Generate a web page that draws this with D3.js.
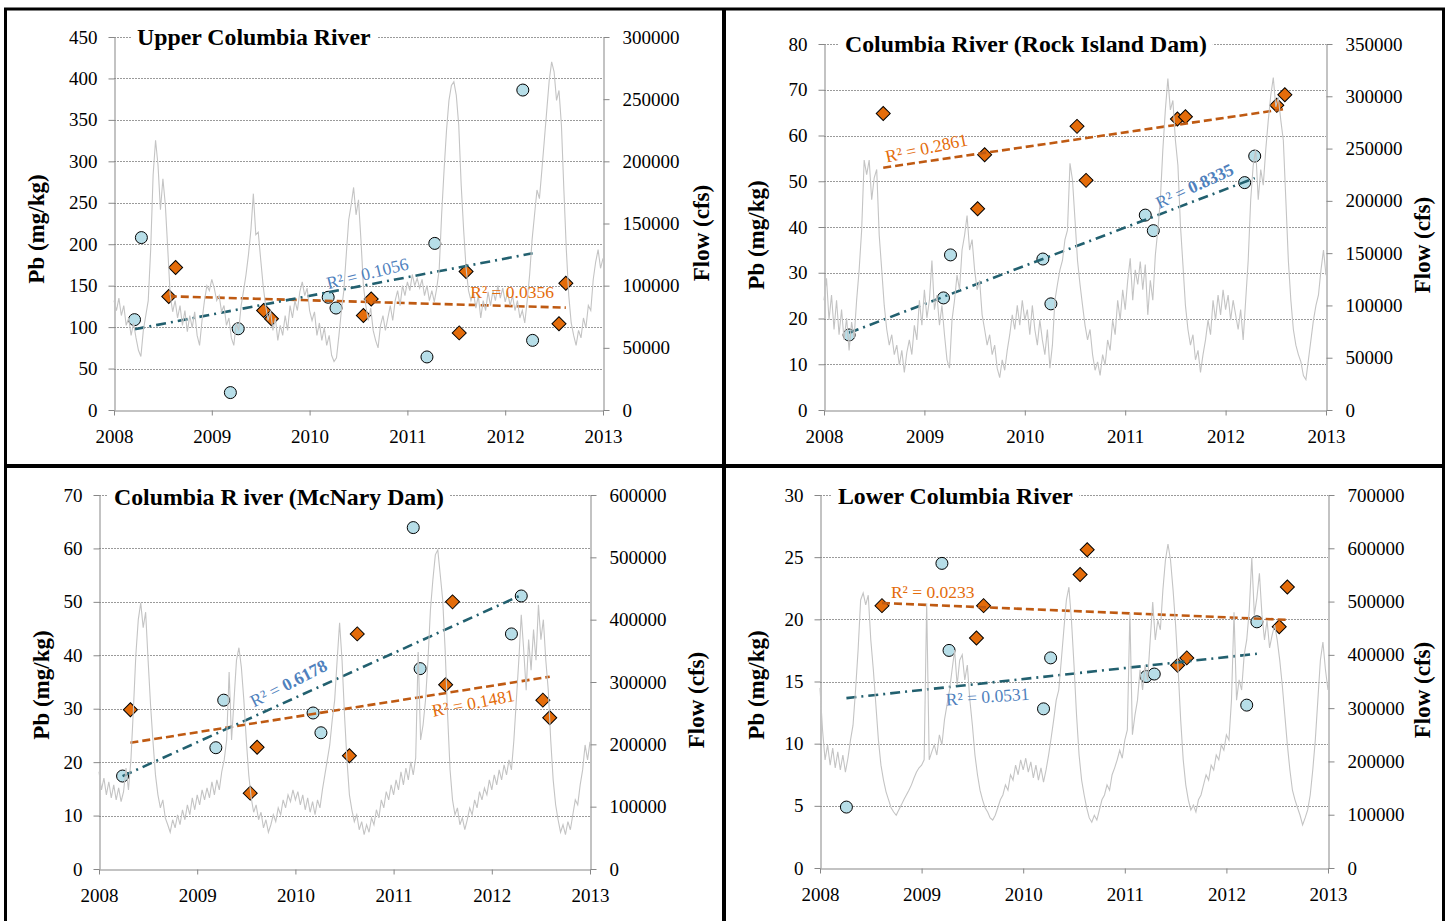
<!DOCTYPE html>
<html>
<head>
<meta charset="utf-8">
<script src="https://cdn.jsdelivr.net/npm/d3@7"></script>
<style>
  body { margin: 0; background: #fff; }
  svg text { font-family: "Liberation Serif", "Times New Roman", serif; }
</style>
</head>
<body>
<svg id="chart" width="1447" height="921"></svg>
<script>
// ---- data ----
const years = [2008, 2009, 2010, 2011, 2012, 2013];

// Pb samples [decimal year, mg/kg]; circles and diamonds are the two sample sets
const upperCircles = [[2008.21,109],[2008.28,208],[2009.19,21],[2009.27,98],[2010.19,136],[2010.27,123],[2011.20,64],[2011.28,201],[2012.18,386],[2012.28,84]];
const upperDiamonds = [[2008.56,137],[2008.63,172],[2009.53,120],[2009.61,110],[2010.55,114],[2010.63,134],[2011.53,93],[2011.60,167],[2012.55,104],[2012.62,153]];

const rockCircles = [[2008.25,16.4],[2009.19,24.5],[2009.26,33.9],[2010.18,33.0],[2010.26,23.2],[2011.20,42.6],[2011.28,39.2],[2012.19,49.7],[2012.29,55.5]];
const rockDiamonds = [[2008.59,64.8],[2009.53,44.0],[2009.60,55.8],[2010.52,62.0],[2010.61,50.2],[2011.52,63.6],[2011.60,64.1],[2012.51,66.6],[2012.59,68.9]];

const mcnaryCircles = [[2008.24,17.4],[2009.19,22.7],[2009.27,31.6],[2010.18,29.2],[2010.26,25.5],[2011.20,63.9],[2011.27,37.5],[2012.20,44.0],[2012.30,51.1]];
const mcnaryDiamonds = [[2008.32,29.8],[2009.54,14.2],[2009.61,22.8],[2010.55,21.2],[2010.63,44.0],[2011.53,34.5],[2011.60,50.0],[2012.52,31.6],[2012.59,28.3]];

const lowerCircles = [[2008.26,4.9],[2009.20,24.5],[2009.27,17.5],[2010.20,12.8],[2010.27,16.9],[2011.21,15.4],[2011.29,15.6],[2012.20,13.1],[2012.30,19.8]];
const lowerDiamonds = [[2008.61,21.1],[2009.54,18.5],[2009.61,21.1],[2010.56,23.6],[2010.63,25.6],[2011.52,16.3],[2011.61,16.9],[2012.52,19.4],[2012.60,22.6]];

// river flow in thousand cfs, one reading every 1/40 year from 2008.0 to 2013.0
const flowDates = d3.range(201).map(i => 2008 + i / 40);

const upperFlow = [88,80,90,76,84,68,74,60,70,58,48,43,64,76,88,129,189,217,197,161,
  186,165,129,92,79,88,74,84,68,80,63,76,66,79,60,52,72,88,100,96,
  105,98,88,92,79,84,68,74,58,52,70,64,84,96,109,125,145,174,141,143,
  121,100,84,72,80,64,74,56,68,60,76,64,84,74,88,80,95,103,92,98,
  80,72,79,60,70,56,66,52,60,44,39,42,60,80,96,125,153,165,179,157,
  169,137,100,84,72,82,64,56,50,68,76,64,74,84,72,88,96,84,100,92,
  103,96,109,100,106,98,105,92,100,88,96,87,98,113,157,193,225,249,261,264,
  253,229,181,145,114,96,88,95,82,92,74,88,80,95,84,96,88,100,90,98,
  87,95,84,92,80,88,74,80,70,88,109,137,157,177,170,193,217,241,265,280,
  272,249,257,229,177,129,92,70,60,52,64,58,74,66,84,80,105,119,129,114,122];

const rockFlow = [105,126,86,110,77,105,72,96,67,88,57,84,69,105,134,172,239,225,239,201,
  222,230,167,134,100,77,62,72,53,62,43,57,36,55,67,53,81,67,105,81,
  115,88,105,143,96,110,81,100,72,48,40,86,105,129,115,153,167,186,153,163,
  134,115,124,91,77,62,72,53,62,40,31,48,38,57,72,91,77,100,81,105,
  86,96,72,100,77,62,86,67,53,77,40,62,105,120,134,143,163,172,236,220,
  182,143,120,100,81,67,77,53,38,46,33,53,43,67,57,86,72,105,86,115,
  96,124,145,105,134,120,142,115,139,91,124,105,148,172,201,249,287,317,287,296,
  258,234,177,139,100,77,62,72,48,57,36,53,67,86,72,105,86,110,91,115,
  96,110,86,105,91,77,96,67,105,143,201,234,249,201,230,215,249,277,301,318,
  290,299,277,258,201,143,105,77,62,53,46,33,29,48,67,86,100,110,134,153,129];

const mcnaryFlow = [156,127,146,119,140,114,135,111,130,108,124,162,127,175,255,343,400,427,387,412,
  335,263,204,151,119,98,111,82,71,59,79,66,87,71,95,79,103,87,114,95,
  119,103,127,111,130,114,140,119,143,127,156,175,207,316,207,271,335,355,323,271,
  207,151,114,91,103,79,91,66,79,59,71,87,76,98,87,111,98,119,108,127,
  111,124,103,119,95,114,91,108,87,111,98,127,151,175,199,239,271,335,395,335,
  247,175,119,95,76,87,63,76,55,71,59,82,71,95,82,111,98,124,111,135,
  119,143,127,156,135,162,143,172,151,178,348,207,231,271,335,416,464,504,512,472,
  432,351,247,159,111,87,98,71,82,63,79,98,87,111,98,124,111,130,119,143,
  127,151,135,159,143,167,151,175,159,207,271,335,408,351,287,368,319,384,335,424,
  368,400,335,287,207,143,103,79,59,71,55,76,63,87,111,103,135,159,199,175,204];

const lowerFlow = [338,259,203,231,193,225,188,218,184,212,180,206,240,268,334,409,503,516,494,512,
  428,372,306,240,193,165,143,128,113,105,99,109,118,128,137,146,156,169,180,188,
  193,203,497,203,218,231,212,250,231,278,306,334,372,409,343,390,400,353,381,315,
  268,212,175,146,128,113,105,94,90,99,113,128,137,156,146,175,165,193,175,203,
  184,206,180,199,169,193,165,188,161,184,212,244,278,315,334,390,447,503,527,465,
  381,287,212,165,137,113,94,86,99,90,109,128,137,156,146,175,188,203,221,206,
  240,259,479,250,287,315,372,334,381,353,428,499,428,465,447,522,578,608,578,522,
  456,372,278,203,156,128,109,118,105,128,137,156,175,165,193,184,212,203,231,221,
  250,240,315,480,315,353,334,400,428,484,582,475,507,553,475,428,465,413,437,456,
  428,390,343,287,231,184,146,128,113,99,81,94,109,137,184,240,315,390,424,372,334];

// ---- panel layout ----
const panels = [
  { title: 'Upper Columbia River', left: 114, right: 603, top: 37, bottom: 410,
    pbMax: 450, pbStep: 50, flowMax: 300000, flowStep: 50000,
    circles: upperCircles, diamonds: upperDiamonds, flow: upperFlow,
    yTitleL: [44, 229], yTitleR: [709, 233], titleX: 137, titleDy: 8,
    labC: { text: '0.1056', at: [2010.59, 165], rot: -14, bold: false },
    labD: { text: '0.0356', at: [2012.07, 142], rot: 0, bold: false } },
  { title: 'Columbia River (Rock Island Dam)', left: 824, right: 1326, top: 44, bottom: 410,
    pbMax: 80, pbStep: 10, flowMax: 350000, flowStep: 50000,
    circles: rockCircles, diamonds: rockDiamonds, flow: rockFlow,
    yTitleL: [764, 235], yTitleR: [1430, 245], titleX: 845, titleDy: 8,
    labC: { text: '0.8335', at: [2011.69, 49], rot: -25, bold: true },
    labD: { text: '0.2861', at: [2009.02, 57.3], rot: -12, bold: false } },
  { title: 'Columbia R iver (McNary Dam)', left: 99, right: 590, top: 495, bottom: 869,
    pbMax: 70, pbStep: 10, flowMax: 600000, flowStep: 100000,
    circles: mcnaryCircles, diamonds: mcnaryDiamonds, flow: mcnaryFlow,
    yTitleL: [49, 685], yTitleR: [704, 700], titleX: 114, titleDy: 10,
    labC: { text: '0.6178', at: [2009.93, 34.8], rot: -27, bold: true },
    labD: { text: '0.1481', at: [2011.81, 31.1], rot: -11, bold: false } },
  { title: 'Lower Columbia River', left: 820, right: 1328, top: 495, bottom: 868,
    pbMax: 30, pbStep: 5, flowMax: 700000, flowStep: 100000,
    circles: lowerCircles, diamonds: lowerDiamonds, flow: lowerFlow,
    yTitleL: [764, 685], yTitleR: [1430, 690], titleX: 838, titleDy: 9,
    labC: { text: '0.0531', at: [2009.65, 13.8], rot: -4, bold: false },
    labD: { text: '0.0233', at: [2009.11, 22.2], rot: 0, bold: false } }
];

const svg = d3.select('#chart');

const linReg = function (pts) {
  const mx = d3.mean(pts, d => d[0]), my = d3.mean(pts, d => d[1]);
  const sxy = d3.sum(pts, d => (d[0] - mx) * (d[1] - my));
  const sxx = d3.sum(pts, d => (d[0] - mx) * (d[0] - mx));
  const b = sxy / sxx;
  return t => my + b * (t - mx);
};

const drawPanel = function (p) {
  const x = d3.scaleLinear().domain([2008, 2013]).range([p.left, p.right]);
  const yL = d3.scaleLinear().domain([0, p.pbMax]).range([p.bottom, p.top]);
  const yR = d3.scaleLinear().domain([0, p.flowMax]).range([p.bottom, p.top]);
  const leftTicks = d3.range(0, p.pbMax + p.pbStep / 2, p.pbStep);
  const rightTicks = d3.range(0, p.flowMax + p.flowStep / 2, p.flowStep);
  const g = svg.append('g');

  // grid
  g.append('g').selectAll('line')
    .data(leftTicks.filter(d => d > 0))
    .join('line')
    .attr('x1', p.left).attr('x2', p.right)
    .attr('y1', d => Math.round(yL(d)) + 0.5).attr('y2', d => Math.round(yL(d)) + 0.5)
    .attr('stroke', '#9a9a9a').attr('stroke-dasharray', '2,1');

  // title with white backing over the top grid line
  const title = g.append('text')
    .attr('x', p.titleX).attr('y', p.top + p.titleDy)
    .attr('font-size', 23.8).attr('font-weight', 'bold')
    .text(p.title);
  const bb = title.node().getBBox();
  g.insert('rect', 'text').attr('x', bb.x - 6).attr('y', bb.y).attr('width', bb.width + 12).attr('height', bb.height)
    .attr('fill', '#fff');

  // axes
  const styleAxis = sel => {
    sel.selectAll('path,line').attr('stroke', '#878787');
    sel.selectAll('text').attr('font-size', 19).attr('fill', '#000')
      .attr('font-family', '"Liberation Serif","Times New Roman",serif');
  };
  g.append('g').attr('transform', `translate(${p.left + 0.5},0)`)
    .call(d3.axisLeft(yL).tickValues(leftTicks).tickSize(6).tickSizeOuter(0).tickPadding(11))
    .call(styleAxis);
  g.append('g').attr('transform', `translate(${p.right + 0.5},0)`)
    .call(d3.axisRight(yR).tickValues(rightTicks).tickFormat(d3.format('d')).tickSize(6).tickSizeOuter(0).tickPadding(13))
    .call(styleAxis);
  g.append('g').attr('transform', `translate(0,${p.bottom + 0.5})`)
    .call(d3.axisBottom(x).tickValues(years).tickFormat(d3.format('d')).tickSize(5).tickSizeOuter(0).tickPadding(14))
    .call(styleAxis);

  // axis titles
  g.append('text').attr('transform', `translate(${p.yTitleL[0]},${p.yTitleL[1]}) rotate(-90)`)
    .attr('text-anchor', 'middle').attr('font-size', 23).attr('font-weight', 'bold').text('Pb (mg/kg)');
  g.append('text').attr('transform', `translate(${p.yTitleR[0]},${p.yTitleR[1]}) rotate(-90)`)
    .attr('text-anchor', 'middle').attr('font-size', 23).attr('font-weight', 'bold').text('Flow (cfs)');

  // markers
  g.append('g').selectAll('circle').data(p.circles).join('circle')
    .attr('cx', d => x(d[0])).attr('cy', d => yL(d[1])).attr('r', 6)
    .attr('fill', '#b7dee8').attr('stroke', '#000').attr('stroke-width', 1);
  const diamond = d3.symbol().type(d3.symbolSquare).size(98);
  g.append('g').selectAll('path').data(p.diamonds).join('path')
    .attr('d', diamond)
    .attr('transform', d => `translate(${x(d[0])},${yL(d[1])}) rotate(45)`)
    .attr('fill', '#e46c0a').attr('stroke', '#000').attr('stroke-width', 1);

  // trend lines
  const trend = (pts, color, dash) => {
    const f = linReg(pts);
    const ext = d3.extent(pts, d => d[0]);
    g.append('line')
      .attr('x1', x(ext[0])).attr('y1', yL(f(ext[0])))
      .attr('x2', x(ext[1])).attr('y2', yL(f(ext[1])))
      .attr('stroke', color).attr('stroke-width', 2.6).attr('stroke-dasharray', dash);
  };
  trend(p.diamonds, '#bf5a12', '8,4');
  trend(p.circles, '#22606f', '10,5,2,5');

  // flow
  const flowLine = d3.line().x((d, i) => x(flowDates[i])).y(d => yR(d * 1000));
  g.append('path').attr('d', flowLine(p.flow))
    .attr('fill', 'none').attr('stroke', '#c4c4c4').attr('stroke-width', 1.1);

  // R² labels
  const label = (lab, color) => {
    const t = g.append('text')
      .attr('transform', `translate(${x(lab.at[0])},${yL(lab.at[1])}) rotate(${lab.rot})`)
      .attr('text-anchor', 'middle').attr('dy', '0.35em')
      .attr('font-size', 17.5).attr('fill', color);
    t.append('tspan').text('R² = ');
    t.append('tspan').attr('font-weight', lab.bold ? 'bold' : 'normal').text(lab.text);
  };
  label(p.labC, '#4f81bd');
  label(p.labD, '#e46c0a');
};

panels.forEach(drawPanel);

// panel frames
const frame = svg.append('g').attr('stroke', '#000').attr('fill', 'none');
frame.append('rect').attr('x', 5.5).attr('y', 9).attr('width', 1438).attr('height', 915).attr('stroke-width', 3);
frame.append('line').attr('x1', 724).attr('x2', 724).attr('y1', 8).attr('y2', 921).attr('stroke-width', 4);
frame.append('line').attr('x1', 4).attr('x2', 1445).attr('y1', 466).attr('y2', 466).attr('stroke-width', 4);
</script>
</body>
</html>
